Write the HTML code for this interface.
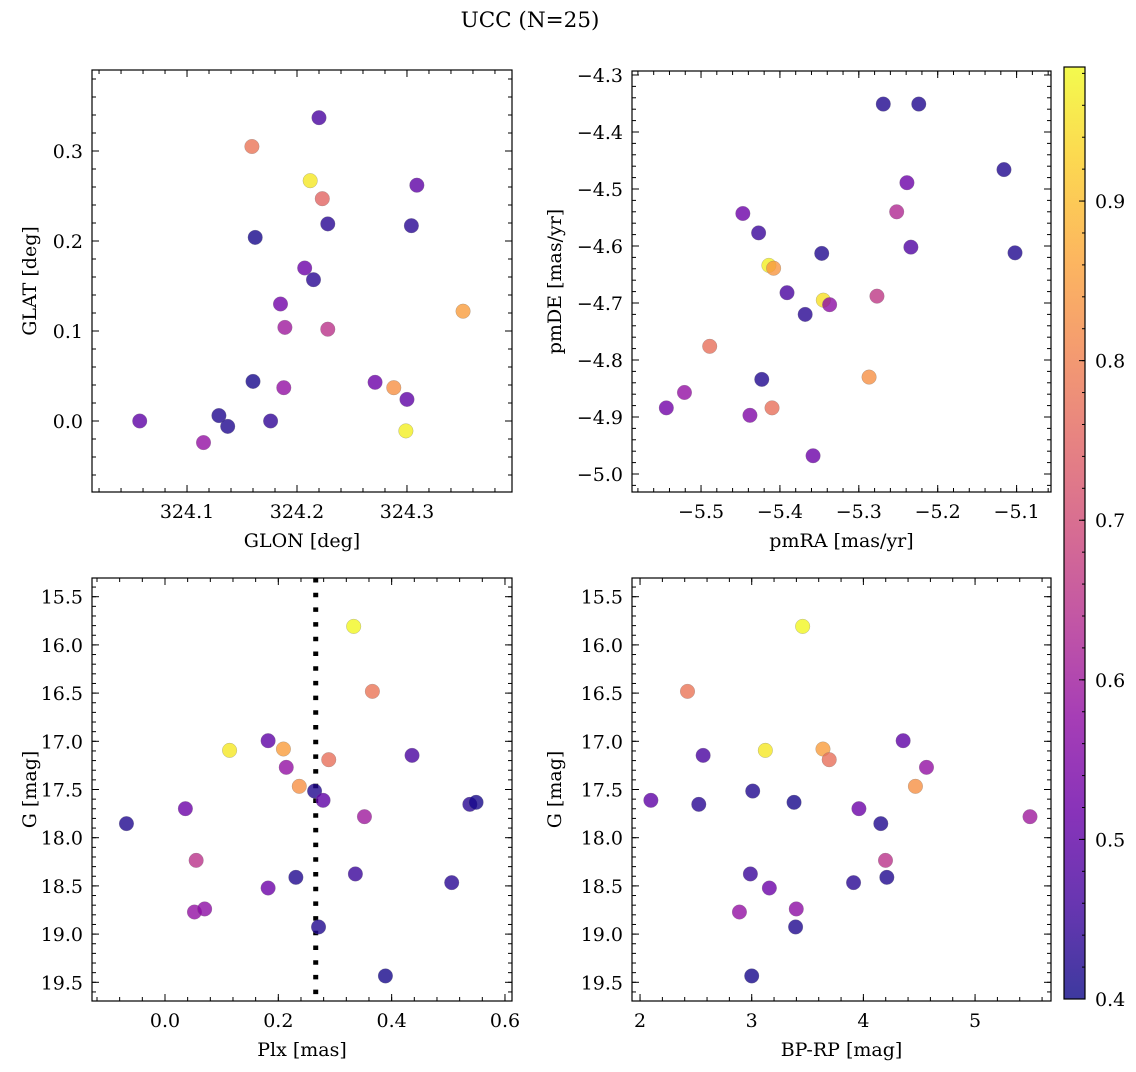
<!DOCTYPE html>
<html><head><meta charset="utf-8"><style>
html,body{margin:0;padding:0;background:#fff;}
svg text{font-family:"DejaVu Serif","Liberation Serif",serif;fill:#000;}
</style></head><body>
<svg id="fig" width="1136" height="1067" viewBox="0 0 1136 1067" xmlns="http://www.w3.org/2000/svg">
<defs>
<linearGradient id="plasmaGrad" x1="0" y1="1" x2="0" y2="0"></linearGradient>
</defs>
<text x="530" y="27" font-size="21.5" text-anchor="middle">UCC (N=25)</text>
<g id="panels"></g>
</svg>
<script>
// ---- data ----
const glon = [324.057,324.115,324.129,324.137,324.160,324.162,324.159,324.176,324.185,324.189,324.188,324.207,324.215,324.212,324.220,324.223,324.228,324.228,324.271,324.288,324.300,324.299,324.304,324.309,324.351];
const glat = [0.000,-0.024,0.006,-0.006,0.044,0.204,0.305,0.000,0.130,0.104,0.037,0.170,0.157,0.267,0.337,0.247,0.219,0.102,0.043,0.037,0.024,-0.011,0.217,0.262,0.122];
const probPos = [0.50,0.58,0.42,0.42,0.41,0.41,0.78,0.44,0.53,0.60,0.58,0.52,0.43,0.96,0.47,0.75,0.43,0.65,0.52,0.83,0.50,0.97,0.43,0.50,0.85];
const pmra = [-5.269,-5.224,-5.116,-5.239,-5.252,-5.447,-5.427,-5.347,-5.234,-5.102,-5.414,-5.408,-5.391,-5.345,-5.337,-5.368,-5.277,-5.489,-5.287,-5.423,-5.521,-5.544,-5.438,-5.410,-5.358];
const pmde = [-4.351,-4.351,-4.466,-4.489,-4.540,-4.543,-4.577,-4.613,-4.602,-4.612,-4.634,-4.639,-4.682,-4.695,-4.703,-4.720,-4.688,-4.776,-4.830,-4.834,-4.857,-4.884,-4.897,-4.884,-4.968];
const probPm = [0.42,0.42,0.42,0.52,0.63,0.52,0.45,0.42,0.48,0.42,0.97,0.84,0.47,0.95,0.57,0.43,0.66,0.77,0.83,0.42,0.58,0.53,0.55,0.77,0.52];
const plx = [-0.068,0.036,0.055,0.052,0.070,0.114,0.182,0.209,0.214,0.237,0.182,0.231,0.264,0.279,0.289,0.271,0.333,0.366,0.352,0.336,0.436,0.389,0.506,0.538,0.549];
const gmag = [17.854,17.699,18.235,18.771,18.739,17.094,16.994,17.080,17.270,17.467,18.522,18.411,17.516,17.612,17.191,18.926,15.808,16.482,17.782,18.376,17.146,19.434,18.466,17.654,17.633];
const bprp = [4.156,3.960,4.198,2.890,3.399,3.122,4.356,3.638,4.565,4.466,3.158,4.210,3.009,2.097,3.694,3.393,3.456,2.425,5.492,2.988,2.565,3.000,3.912,2.526,3.379];
const probPhot = [0.42,0.52,0.65,0.58,0.57,0.96,0.50,0.85,0.58,0.83,0.52,0.42,0.42,0.50,0.77,0.42,0.98,0.78,0.60,0.45,0.47,0.41,0.43,0.43,0.41];
const plxLine = 0.266;
const glonTicks = [324.1,324.2,324.3];
const glatTicks = [0.0,0.1,0.2,0.3];
const pmraTicks = [-5.5,-5.4,-5.3,-5.2,-5.1];
const pmdeTicks = [-5.0,-4.9,-4.8,-4.7,-4.6,-4.5,-4.4,-4.3];
const plxTicks = [0.0,0.2,0.4,0.6];
const gTicks = [15.5,16.0,16.5,17.0,17.5,18.0,18.5,19.0,19.5];
const bprpTicks = [2,3,4,5];
const cbarTicks = [0.4,0.5,0.6,0.7,0.8,0.9];
const cbarRange = [0.4,0.984];

const NS="http://www.w3.org/2000/svg";
const FS=19;
const plasmaStops=[[0,'#0d0887'],[0.1,'#41049d'],[0.2,'#6a00a8'],[0.3,'#8f0da4'],[0.4,'#b12a90'],[0.5,'#cc4778'],[0.6,'#e16462'],[0.7,'#f2844b'],[0.8,'#fca636'],[0.9,'#fcce25'],[1,'#f0f921']];
function hex(h){return [parseInt(h.substr(1,2),16),parseInt(h.substr(3,2),16),parseInt(h.substr(5,2),16)];}
function plasma(t){t=Math.max(0,Math.min(1,t));for(let i=1;i<plasmaStops.length;i++){if(t<=plasmaStops[i][0]){const a=plasmaStops[i-1],b=plasmaStops[i];const f=(t-a[0])/(b[0]-a[0]);const ca=hex(a[1]),cb=hex(b[1]);return 'rgb('+ca.map((v,k)=>Math.round(v+(cb[k]-v)*f)).join(',')+')';}}return plasmaStops[10][1];}
function mk(tag,attrs,parent){const e=document.createElementNS(NS,tag);for(const k in attrs)e.setAttribute(k,attrs[k]);parent.appendChild(e);return e;}
function fmt(v,d){return (v<0?'\u2212':'')+Math.abs(v).toFixed(d);}

const root=document.getElementById('panels');
const grad=document.getElementById('plasmaGrad');
plasmaStops.forEach(s=>{mk('stop',{offset:s[0],'stop-color':s[1]},grad);});

function panel(cfg){
  const g=mk('g',{},root);
  
  
  const L=cfg.box[0],T=cfg.box[1],R=cfg.box[2],B=cfg.box[3];
  const sx=v=>L+(v-cfg.xlim[0])/(cfg.xlim[1]-cfg.xlim[0])*(R-L);
  const sy=cfg.yinv?(v=>T+(v-cfg.ylim[0])/(cfg.ylim[1]-cfg.ylim[0])*(B-T)):(v=>B-(v-cfg.ylim[0])/(cfg.ylim[1]-cfg.ylim[0])*(B-T));
  const tg=mk('g',{stroke:'#000','stroke-width':1},g);
  function ticksX(step,len){const s=Math.ceil(cfg.xlim[0]/step-1e-9);for(let k=s;k*step<=cfg.xlim[1]+1e-9;k++){const x=sx(k*step);mk('line',{x1:x,y1:B,x2:x,y2:B-len},tg);mk('line',{x1:x,y1:T,x2:x,y2:T+len},tg);}}
  function ticksY(step,len){const lo=Math.min(cfg.ylim[0],cfg.ylim[1]),hi=Math.max(cfg.ylim[0],cfg.ylim[1]);const s=Math.ceil(lo/step-1e-9);for(let k=s;k*step<=hi+1e-9;k++){const y=sy(k*step);mk('line',{x1:L,y1:y,x2:L+len,y2:y},tg);mk('line',{x1:R,y1:y,x2:R-len,y2:y},tg);}}
  ticksX(cfg.xminor,4);ticksY(cfg.yminor,4);
  cfg.xticks.forEach(v=>{const x=sx(v);mk('line',{x1:x,y1:B,x2:x,y2:B-7},tg);mk('line',{x1:x,y1:T,x2:x,y2:T+7},tg);
    const t=mk('text',{x:x,y:B+26,'font-size':FS,'text-anchor':'middle'},g);t.textContent=fmt(v,cfg.xdec);
    
    });
  cfg.yticks.forEach(v=>{const y=sy(v);mk('line',{x1:L,y1:y,x2:L+7,y2:y},tg);mk('line',{x1:R,y1:y,x2:R-7,y2:y},tg);
    const t=mk('text',{x:L-9,y:y+7,'font-size':FS,'text-anchor':'end'},g);t.textContent=fmt(v,cfg.ydec);
    
    });
  if(cfg.vline!==undefined){const l=mk('line',{x1:sx(cfg.vline),x2:sx(cfg.vline),y1:T,y2:B,stroke:'#000','stroke-width':5,'stroke-dasharray':'4.5 10.2'},g);
    
    }
  const pg=mk('g',{},g);
  cfg.x.forEach((xv,i)=>{const c=mk('circle',{cx:sx(xv),cy:sy(cfg.y[i]),r:7.3,fill:plasma((cfg.c[i]-cbarRange[0])/(cbarRange[1]-cbarRange[0])),'fill-opacity':0.8,stroke:'#777','stroke-opacity':0.5,'stroke-width':0.5},pg);
    
    });
  const fr=mk('rect',{x:L,y:T,width:R-L,height:B-T,fill:'none',stroke:'#000','stroke-width':1.2},g);
  
  
  const xl=mk('text',{x:(L+R)/2,y:B+55,'font-size':FS,'text-anchor':'middle'},g);xl.textContent=cfg.xlabel;
  
  
  const yx=cfg.ylabx,yc=(T+B)/2;
  const yl=mk('text',{x:yx,y:yc,'font-size':FS,'text-anchor':'middle',transform:'rotate(-90 '+yx+' '+yc+')'},g);yl.textContent=cfg.ylabel;
  
  
}

panel({name:'position-panel',box:[92,70,512,492],xlim:[324.0136,324.3955],ylim:[-0.0789,0.39],x:glon,y:glat,c:probPos,xticks:glonTicks,yticks:glatTicks,xminor:0.02,yminor:0.02,xdec:1,ydec:1,xlabel:'GLON [deg]',ylabel:'GLAT [deg]',ylabx:36});
panel({name:'proper-motion-panel',box:[632,71,1051,492],xlim:[-5.5875,-5.0564],ylim:[-5.0316,-4.293],x:pmra,y:pmde,c:probPm,xticks:pmraTicks,yticks:pmdeTicks,xminor:0.02,yminor:0.02,xdec:1,ydec:1,xlabel:'pmRA [mas/yr]',ylabel:'pmDE [mas/yr]',ylabx:561});
panel({name:'parallax-panel',box:[92,578,512,1001],xlim:[-0.1288,0.6124],ylim:[15.306,19.694],yinv:true,x:plx,y:gmag,c:probPhot,xticks:plxTicks,yticks:gTicks,xminor:0.04,yminor:0.1,xdec:1,ydec:1,xlabel:'Plx [mas]',ylabel:'G [mag]',ylabx:36,vline:plxLine});
panel({name:'cmd-panel',box:[632,578,1051,1001],xlim:[1.928,5.680],ylim:[15.306,19.694],yinv:true,x:bprp,y:gmag,c:probPhot,xticks:bprpTicks,yticks:gTicks,xminor:0.2,yminor:0.1,xdec:0,ydec:1,xlabel:'BP-RP [mag]',ylabel:'G [mag]',ylabx:561});

// colorbar
(function(){
  const cg=mk('g',{},root);
  
  
  const L=1064,R=1085,T=67,B=999;
  const cy=v=>B-(v-cbarRange[0])/(cbarRange[1]-cbarRange[0])*(B-T);
  mk('rect',{x:L,y:T,width:R-L,height:B-T,fill:'url(#plasmaGrad)','fill-opacity':0.8},cg);
  for(let k=20;k*0.02<=cbarRange[1]+1e-9;k++){const y=cy(k*0.02);mk('line',{x1:R,x2:R-3,y1:y,y2:y,stroke:'#000','stroke-width':1},cg);}
  cbarTicks.forEach(v=>{const y=cy(v);mk('line',{x1:R,x2:R-6,y1:y,y2:y,stroke:'#000','stroke-width':1},cg);
    const t=mk('text',{x:R+10,y:y+7,'font-size':FS},cg);t.textContent=v.toFixed(1);
    
    });
  mk('rect',{x:L,y:T,width:R-L,height:B-T,fill:'none',stroke:'#000','stroke-width':1.2},cg);
})();
</script>
</body></html>
